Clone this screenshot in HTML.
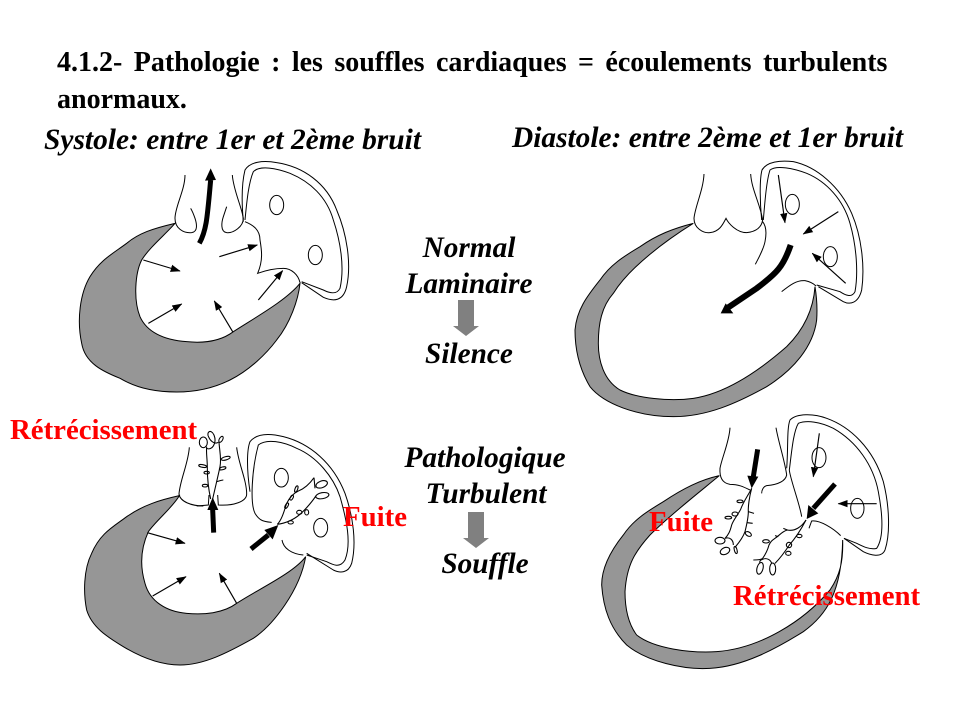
<!DOCTYPE html>
<html><head><meta charset="utf-8"><style>
html,body{margin:0;padding:0;background:#fff}
svg{display:block}
text{font-family:"Liberation Serif",serif;font-weight:bold}
.i{font-style:italic;font-size:29.3px;text-anchor:middle}
.r{fill:#f00;font-size:28.8px}
.g{fill:#969696;stroke:#000;stroke-width:3}
.l{fill:none;stroke:#000;stroke-width:3}
.c{fill:none;stroke:#000;stroke-width:3.2}
.a{fill:none;stroke:#000;stroke-width:3.5;marker-end:url(#h)}
.t{fill:none;stroke:#000;stroke-width:15}
</style></head><body>
<svg width="960" height="720" viewBox="0 0 960 720" xmlns="http://www.w3.org/2000/svg">
<defs><marker id="h" markerUnits="userSpaceOnUse" markerWidth="32" markerHeight="26" refX="28" refY="13" orient="auto"><path d="M0,2 L30,13 L0,24z" fill="#000"/></marker></defs>
<rect width="960" height="720" fill="#fff"/>

<!-- Heart 1 -->
<g transform="translate(70,160) scale(.33333)">
<path class="g" d="M315,190 C250,205 205,220 170,250 C130,280 90,300 60,350 C30,400 20,480 35,550 C45,610 100,635 150,655 C210,690 270,696 320,696 C380,696 430,685 480,660 C540,630 590,580 620,540 C660,490 685,420 690,370 C650,420 560,470 490,515 C450,545 400,550 350,545 C280,540 230,515 210,470 C190,420 195,340 215,300 C240,260 290,220 315,190Z"/>
<path class="l" d="M345,45 C345,90 315,140 315,175 C315,205 340,220 365,218 C385,215 380,190 375,175 C370,160 365,150 362,145"/>
<path class="l" d="M487,45 C490,90 515,140 520,175 C520,200 490,220 470,218 C450,215 455,185 460,170 L470,140"/>
<path class="l" d="M520,185 C515,130 515,70 525,30 C540,5 580,0 620,8 C700,20 770,70 800,150 C830,220 845,310 830,380 C820,425 790,425 760,412 L695,368"/>
<path class="l" d="M525,180 C530,130 535,70 550,35 C570,15 620,25 660,40 C720,65 770,110 790,180 C810,240 825,320 810,385 C800,405 780,400 760,390 L695,365"/>
<path class="l" d="M525,185 C550,195 570,210 570,240 C575,270 580,300 563,340 C590,330 620,325 640,325 C665,325 685,345 690,368"/>
<ellipse class="l" cx="620" cy="135" rx="21" ry="29"/><ellipse class="l" cx="736" cy="285" rx="21" ry="29"/>
<path class="a" d="M220,300L330,333"/><path class="a" d="M235,490L335,432"/><path class="a" d="M488,515L433,423"/><path class="a" d="M565,420L638,332"/><path class="a" d="M448,290L562,255"/>
<path class="t" d="M388,250 C410,210 412,170 422,60"/><path d="M405,62 L438,60 L422,25z"/>
</g>

<!-- Heart 2 -->
<g transform="translate(560,160) scale(.33333)">
<path class="g" d="M400,190 C340,205 290,225 240,260 C190,290 150,315 120,360 C80,410 50,450 45,510 C45,570 60,630 90,680 C130,730 230,770 340,770 C440,770 530,730 620,680 C700,630 760,560 770,480 C772,450 770,410 765,380 C760,450 730,510 680,560 C600,630 500,700 400,715 C330,725 230,715 180,690 C130,660 115,600 115,550 C115,490 125,440 160,400 C210,320 320,240 400,190Z"/>
<path class="l" d="M432,42 C430,90 405,140 402,175 C402,205 430,220 450,218 C480,215 490,190 498,175 C505,190 530,218 560,218 C590,215 605,200 608,180 C600,130 575,90 572,42"/>
<path class="l" d="M605,180 C600,130 598,60 606,30 C620,5 660,0 700,5 C770,20 840,80 875,160 C905,230 915,320 905,390 C895,430 870,435 850,425 L775,380"/>
<path class="l" d="M610,180 C615,120 620,60 630,30 C650,15 700,25 740,40 C800,65 850,120 870,190 C890,260 895,340 885,395 C875,415 855,405 840,395 L770,375"/>
<path class="l" d="M608,185 C620,200 620,220 615,245 C610,270 595,295 586,313"/>
<path class="l" d="M665,395 C690,375 710,360 735,362 C750,365 760,370 768,378"/>
<ellipse class="l" cx="697" cy="133" rx="21" ry="30"/><ellipse class="l" cx="811" cy="290" rx="21" ry="30"/>
<path class="a" d="M655,45L675,188"/><path class="a" d="M835,155L730,222"/><path class="a" d="M857,370L757,280"/>
<path class="t" style="stroke-width:18" d="M692,255 C670,320 650,340 590,385 C560,405 530,425 505,442"/><path d="M482,460 L520,460 L497,430z"/>
</g>

<!-- Heart 3 -->
<g transform="translate(70,420) scale(.33333)">
<path class="g" d="M328,227 C270,240 220,255 170,290 C130,320 90,340 65,400 C40,450 40,520 50,570 C65,620 110,650 160,680 C210,710 270,735 330,735 C400,735 470,700 550,655 C610,615 690,510 707,410 C670,460 560,510 500,550 C460,580 400,585 350,580 C290,575 240,545 225,490 C210,440 210,390 235,335 C260,300 310,260 328,227Z"/>
<path class="l" d="M358,82 C355,130 330,180 327,222 C330,245 365,258 400,258"/>
<path class="l" d="M500,82 C505,130 530,180 530,222 C530,245 490,258 445,255 L443,225"/>
<path class="l" d="M417,225 L415,255 L380,258"/>
<path class="l" d="M540,215 C530,150 530,90 540,65 C560,40 600,40 640,50 C720,70 790,130 825,220 C850,290 860,370 845,430 C835,460 810,460 790,450 L710,400"/>
<path class="l" d="M605,307 C585,305 570,305 555,280 C540,250 545,150 565,75 C590,55 640,65 680,85 C740,110 790,170 810,230 C830,300 845,370 825,420 C810,445 790,435 770,425 L710,405"/>
<path class="l" d="M636,360 C640,385 665,402 700,405"/>
<ellipse class="l" cx="634" cy="173" rx="21" ry="28"/><ellipse class="l" cx="752" cy="323" rx="21" ry="28"/>
<path class="a" d="M232,338L345,370"/><path class="a" d="M248,528L348,470"/><path class="a" d="M500,550L448,460"/>
<path class="t" d="M431,338L428,268"/><path d="M412,270 L445,270 L428,232z"/>
<path class="t" d="M543,387L595,345"/><path d="M583,330 L608,358 L625,315z"/>
</g>
<g transform="translate(190,425) scale(.33333)">
<path class="c" d="M62,222 C55,190 52,160 52,130 C52,100 48,85 50,65"/>
<ellipse class="c" cx="40" cy="52" rx="12" ry="16"/>
<path class="c" d="M50,70 C65,78 82,55 72,30 C62,10 48,22 56,36 C62,50 75,58 85,52"/>
<ellipse class="c" cx="93" cy="43" rx="5" ry="10" transform="rotate(30 93 43)"/>
<ellipse class="c" cx="38" cy="123" rx="12" ry="4" transform="rotate(10 38 123)"/>
<ellipse class="c" cx="50" cy="143" rx="8" ry="4"/>
<ellipse class="c" cx="45" cy="182" rx="8" ry="4"/>
<path class="c" d="M68,222 C75,190 85,150 90,125 C95,100 88,75 87,50"/>
<ellipse class="c" cx="107" cy="100" rx="14" ry="5" transform="rotate(-15 107 100)"/>
<ellipse class="c" cx="98" cy="130" rx="10" ry="4" transform="rotate(-15 98 130)"/>
<path class="c" d="M80,170 C88,168 95,165 100,165"/>
<path class="c" d="M262,298 C275,285 282,260 290,235 C300,215 310,205 325,198 C345,190 360,175 372,158"/>
<ellipse class="c" cx="290" cy="242" rx="4" ry="9" transform="rotate(30 290 242)"/>
<ellipse class="c" cx="305" cy="218" rx="4" ry="8" transform="rotate(30 305 218)"/>
<ellipse class="c" cx="319" cy="192" rx="4" ry="10" transform="rotate(20 319 192)"/>
<ellipse class="c" cx="395" cy="178" rx="18" ry="10" transform="rotate(-20 395 178)"/>
<path class="c" d="M262,298 C285,295 310,285 330,268 C350,250 370,225 378,212"/>
<ellipse class="c" cx="302" cy="292" rx="8" ry="5"/>
<ellipse class="c" cx="328" cy="262" rx="8" ry="6"/>
<ellipse class="c" cx="350" cy="262" rx="6" ry="8"/>
<ellipse class="c" cx="397" cy="212" rx="20" ry="9" transform="rotate(-10 397 212)"/>
<path class="c" d="M372,158 L375,190"/>
</g>

<!-- Heart 4 -->
<g transform="translate(590,405) scale(.33333)">
<path class="g" d="M388,212 C330,225 280,250 220,290 C170,320 130,345 100,390 C60,440 35,490 35,540 C40,610 60,670 110,720 C170,770 280,795 360,790 C460,785 560,730 640,680 C710,630 755,560 758,405 C760,470 750,510 720,555 C640,650 510,730 380,740 C300,745 190,730 140,690 C110,650 105,600 105,560 C110,480 135,440 180,390 C240,330 330,260 388,212Z"/>
<path class="l" d="M420,68 C418,110 395,160 390,190 C388,220 400,235 420,238 C445,238 460,245 480,255"/>
<path class="l" d="M558,68 C565,110 585,170 590,210 C585,235 550,240 530,242 C520,245 515,255 515,265"/>
<path class="l" d="M590,190 C595,130 590,70 600,45 C620,25 670,25 710,40 C780,65 850,130 880,230 C900,310 900,390 885,435 C875,460 840,450 820,440 L762,400"/>
<path class="l" d="M635,335 C630,300 600,220 598,195 C605,140 610,80 625,55 C650,45 690,50 730,70 C800,110 850,180 865,260 C880,340 880,400 860,430 C840,435 820,425 800,415 L762,400"/>
<path class="l" d="M657,370 L665,348 C690,345 730,370 752,392"/>
<ellipse class="l" cx="687" cy="158" rx="21" ry="30"/><ellipse class="l" cx="802" cy="310" rx="20" ry="30"/>
<path class="a" d="M688,85L670,215"/><path class="a" d="M860,296L745,296"/>
<path class="t" d="M503,133L490,215"/><path d="M472,212 L505,215 L485,250z"/>
<path class="t" d="M735,237L670,310"/><path d="M655,300 L685,325 L650,342z"/>
</g>
<g transform="translate(700,470) scale(.33333)">
<path class="c" d="M155,55 C145,75 130,95 122,118 C110,140 100,150 95,165 C90,185 85,195 75,205"/>
<ellipse class="c" cx="120" cy="94" rx="9" ry="4"/>
<ellipse class="c" cx="105" cy="132" rx="9" ry="6"/>
<ellipse class="c" cx="85" cy="143" rx="10" ry="4"/>
<ellipse class="c" cx="60" cy="212" rx="15" ry="10"/>
<path class="c" d="M75,205 C90,200 100,210 100,225"/>
<ellipse class="c" cx="75" cy="243" rx="15" ry="10" transform="rotate(-25 75 243)"/>
<path class="c" d="M155,55 C148,80 144,110 145,125 C145,145 140,165 135,185 C128,205 115,220 105,232"/>
<ellipse class="c" cx="107" cy="240" rx="4" ry="11" transform="rotate(-15 107 240)"/>
<path class="c" d="M145,125 L162,130 M142,158 L158,160"/>
<ellipse class="c" cx="145" cy="192" rx="10" ry="6" transform="rotate(30 145 192)"/>
<path class="c" d="M318,150 C305,170 285,185 262,180 C245,185 240,195 225,205 C215,212 212,215 207,225 C203,240 195,255 188,265 C185,268 175,270 160,270"/>
<path class="c" d="M250,175 L262,180 M225,197 L235,200"/>
<ellipse class="c" cx="198" cy="214" rx="10" ry="5"/>
<ellipse class="c" cx="180" cy="295" rx="9" ry="18" transform="rotate(15 180 295)"/>
<path class="c" d="M188,268 C180,270 178,275 180,280 M188,268 C200,262 212,270 215,280"/>
<ellipse class="c" cx="218" cy="297" rx="9" ry="18"/>
<path class="c" d="M318,150 C305,175 290,200 268,225 C255,245 240,265 225,280"/>
<ellipse class="c" cx="298" cy="198" rx="8" ry="5"/>
<ellipse class="c" cx="267" cy="225" rx="8" ry="8"/>
<ellipse class="c" cx="265" cy="250" rx="8" ry="6"/>
</g>

<!-- Grey arrows -->
<path d="M458,300H474V326H479L466,336L453,326H458Z" fill="#808080"/>
<path d="M468,512H484V538H489L476,548L463,538H468Z" fill="#808080"/>

<!-- Text -->
<text x="57" y="71" font-size="28" word-spacing="4.4">4.1.2- Pathologie : les souffles cardiaques = écoulements turbulents</text>
<text x="57" y="108" font-size="28">anormaux.</text>
<text x="44" y="149" font-size="29.3" font-style="italic" textLength="377" lengthAdjust="spacingAndGlyphs">Systole: entre 1er et 2ème bruit</text>
<text x="512" y="147" font-size="29.3" font-style="italic" textLength="391" lengthAdjust="spacingAndGlyphs">Diastole: entre 2ème et 1er bruit</text>
<text class="i" x="469" y="257">Normal</text>
<text class="i" x="469" y="293">Laminaire</text>
<text class="i" x="469" y="363">Silence</text>
<text class="i" x="485" y="467">Pathologique</text>
<text class="i" x="486" y="503">Turbulent</text>
<text class="i" x="485" y="573">Souffle</text>
<text class="r" x="10" y="439">Rétrécissement</text>
<text class="r" x="343" y="526">Fuite</text>
<text class="r" x="649" y="531">Fuite</text>
<text class="r" x="733" y="605">Rétrécissement</text>
</svg>
</body></html>
